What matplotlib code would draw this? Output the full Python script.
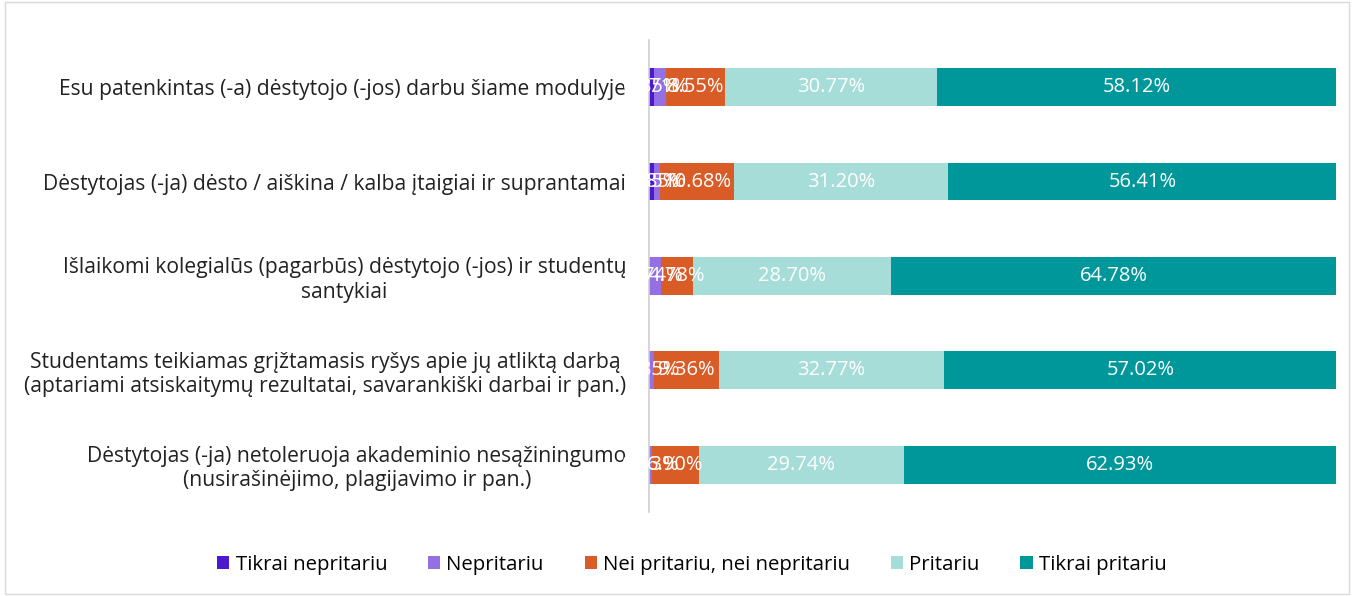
import numpy as np
import matplotlib.pyplot as plt
from matplotlib.patches import Rectangle

plt.rcParams['font.family'] = ['Open Sans', 'DejaVu Sans']

statements = [
    'Esu patenkintas (-a) dėstytojo (-jos) darbu šiame modulyje',
    'Dėstytojas (-ja) dėsto / aiškina / kalba įtaigiai ir suprantamai',
    'Išlaikomi kolegialūs (pagarbūs) dėstytojo (-jos) ir studentų\nsantykiai',
    'Studentams teikiamas grįžtamasis ryšys apie jų atliktą darbą\n(aptariami atsiskaitymų rezultatai, savarankiški darbai ir pan.)',
    'Dėstytojas (-ja) netoleruoja akademinio nesąžiningumo\n(nusirašinėjimo, plagijavimo ir pan.)',
]
answers = ['Tikrai nepritariu', 'Nepritariu', 'Nei pritariu, nei nepritariu',
           'Pritariu', 'Tikrai pritariu']

# shares in percent, one list per answer, in statement order
strongly_disagree = [0.85, 0.85, 0.00, 0.00, 0.00]
disagree = [1.71, 0.85, 1.74, 0.85, 0.43]
neutral = [8.55, 10.68, 4.78, 9.36, 6.90]
agree = [30.77, 31.20, 28.70, 32.77, 29.74]
strongly_agree = [58.12, 56.41, 64.78, 57.02, 62.93]

series = [strongly_disagree, disagree, neutral, agree, strongly_agree]
colors = ['#4b1ad0', '#9370e3', '#d95b26', '#a6ddd9', '#00979b']

fig = plt.figure(figsize=(13.54, 5.96), dpi=100)
ax = fig.add_axes([0.479, 0.141, 0.508, 0.792])

y = np.arange(len(statements))
left = np.zeros(len(statements))
for name, vals, col in zip(answers, series, colors):
    vals = np.array(vals)
    bars = ax.barh(y, vals, left=left, height=0.4, color=col, label=name)
    for b, v in zip(bars, vals):
        if v > 0:
            ax.text(b.get_x() + b.get_width() / 2, b.get_y() + b.get_height() / 2,
                    f'{v:.2f}%', ha='center', va='center', color='white', fontsize=14.5)
    left += vals

ax.set_xlim(0, 100)
ax.set_ylim(4.5, -0.5)
ax.set_yticks(y)
ax.set_yticklabels(statements, fontsize=15.2, color='#222222')
for lbl in ax.get_yticklabels():
    lbl.set_multialignment('center')
ax.tick_params(axis='y', length=0, pad=16)
ax.set_xticks([])
for s in ['top', 'right', 'bottom']:
    ax.spines[s].set_visible(False)
ax.spines['left'].set_color('#d0d0d0')
ax.spines['left'].set_linewidth(1.2)

fig.legend(loc='center', bbox_to_anchor=(0.511, 0.052), ncol=5, frameon=False,
           fontsize=14.7, handlelength=0.6, handleheight=0.6, handletextpad=0.3,
           columnspacing=2.0)

fig.patches.append(Rectangle((0.004, 0.004), 0.992, 0.992, transform=fig.transFigure,
                             fill=False, edgecolor='#d9d9d9', linewidth=1))

fig.savefig('out.png', dpi=100)
